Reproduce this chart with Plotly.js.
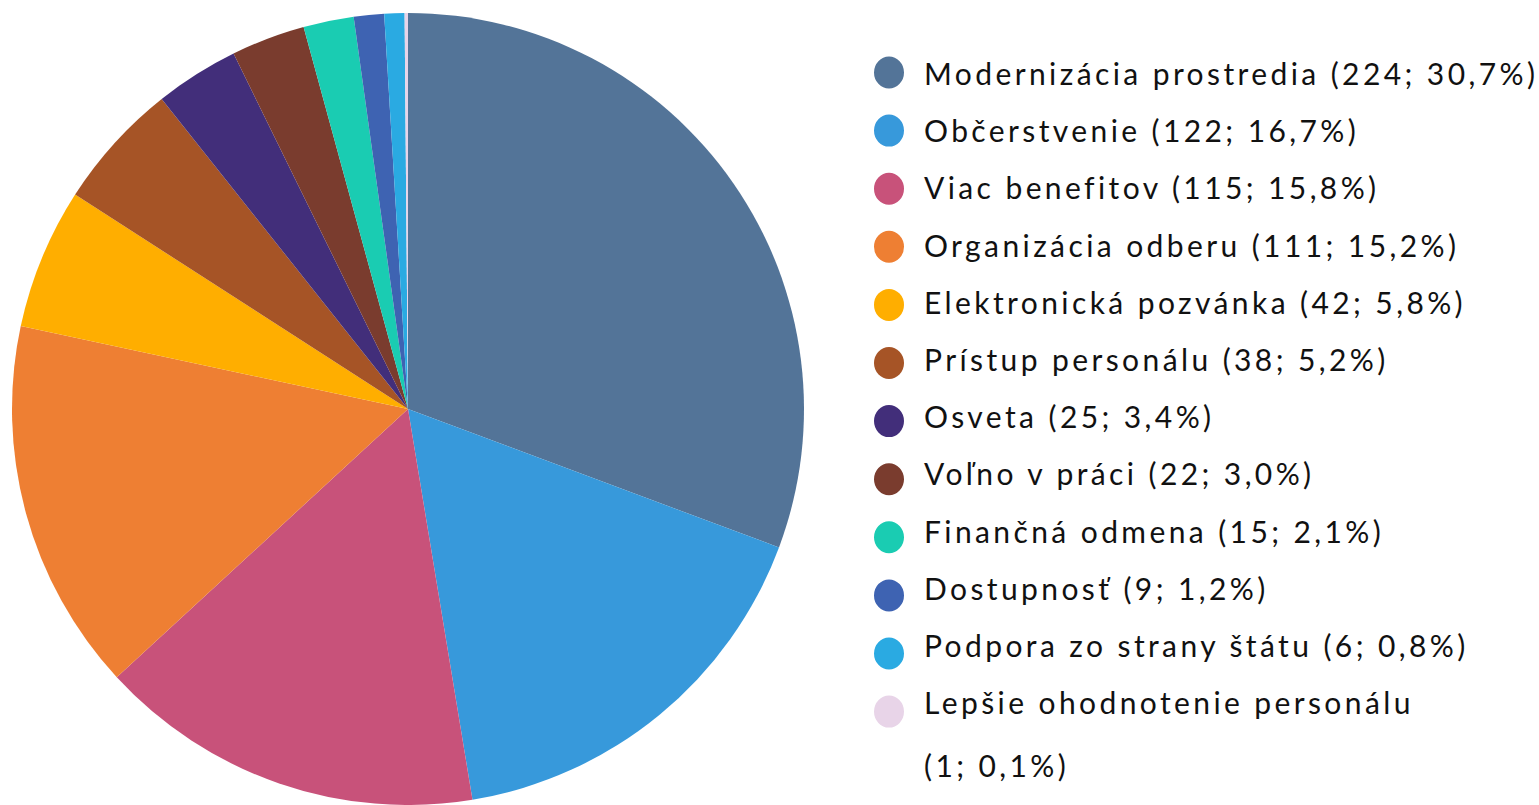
<!DOCTYPE html>
<html>
<head>
<meta charset="utf-8">
<script src="https://cdn.plot.ly/plotly-3.0.1.min.js"></script>
<style>
  html, body { margin: 0; padding: 0; background: #fff; }
  #chart { width: 1539px; height: 805px; }
  #chart .annotation-text { letter-spacing: 3.4px; }
</style>
</head>
<body>
<div id="chart"></div>
<script>
const labels = [
  "Modernizácia prostredia",
  "Občerstvenie",
  "Viac benefitov",
  "Organizácia odberu",
  "Elektronická pozvánka",
  "Prístup personálu",
  "Osveta",
  "Voľno v práci",
  "Finančná odmena",
  "Dostupnosť",
  "Podpora zo strany štátu",
  "Lepšie ohodnotenie personálu"
];
const values = [224, 122, 115, 111, 42, 38, 25, 22, 15, 9, 6, 1];
const colors = [
  "#537498", "#3799db", "#c8527a", "#ee7f33", "#ffae00", "#a65426",
  "#422e7a", "#7a3c2e", "#1accb2", "#3e63b2", "#2aaae2", "#e8d4e8"
];

const W = 1539, H = 805;
const total = values.reduce((a, b) => a + b, 0);
const fmtPct = v => (v / total * 100).toFixed(1).replace(".", ",") + "%";

const pie = {
  type: "pie",
  labels: labels,
  values: values,
  sort: false,
  direction: "clockwise",
  rotation: 0,
  textinfo: "none",
  hovertemplate: "%{label}: %{value} (%{percent})<extra></extra>",
  marker: { colors: colors, line: { width: 0 } },
  domain: { x: [8 / W, 808 / W], y: [0, 1 - 13 / H] },
  showlegend: false
};

// custom legend with round markers
const shapes = [];
const annotations = [];
const markerStart = 72.5, markerGap = 58.1;
const textStart = 73, textGap = 57.2, wrapGap = 63;
const markerX = 889 / W, textX = 922 / W;
const font = { family: "Lato, sans-serif", size: 30, color: "#111" };
const py = px => 1 - px / H;
labels.forEach((lab, i) => {
  shapes.push({
    type: "circle", xref: "paper", yref: "paper",
    xsizemode: "pixel", ysizemode: "pixel",
    xanchor: markerX, yanchor: py(markerStart + i * markerGap),
    x0: -15, x1: 15, y0: -16, y1: 16,
    fillcolor: colors[i], line: { width: 0 }
  });
  const detail = "(" + values[i] + "; " + fmtPct(values[i]) + ")";
  const yText = textStart + i * textGap;
  const base = { xref: "paper", yref: "paper", x: textX, xanchor: "left", yanchor: "middle", align: "left", showarrow: false, font: font };
  if (lab.length > 25) {
    annotations.push(Object.assign({}, base, { y: py(yText), text: lab }));
    annotations.push(Object.assign({}, base, { y: py(yText + wrapGap), text: detail }));
  } else {
    annotations.push(Object.assign({}, base, { y: py(yText), text: lab + " " + detail }));
  }
});

const layout = {
  width: W, height: H,
  margin: { l: 0, r: 0, t: 0, b: 0 },
  paper_bgcolor: "#fff",
  plot_bgcolor: "#fff",
  showlegend: false,
  shapes: shapes,
  annotations: annotations
};

Plotly.newPlot("chart", [pie], layout, { displayModeBar: false, responsive: false });
</script>
</body>
</html>
